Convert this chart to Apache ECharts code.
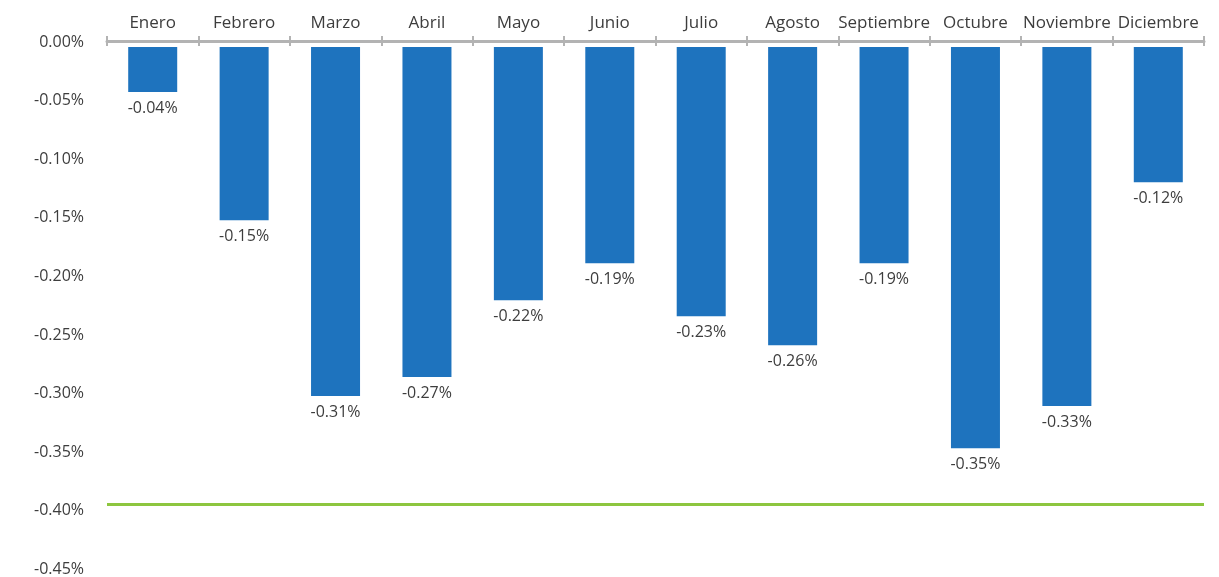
<!DOCTYPE html>
<html>
<head>
<meta charset="utf-8">
<script src="https://cdn.jsdelivr.net/npm/echarts@6/dist/echarts.min.js"></script>
<style>
html,body{margin:0;padding:0;background:#fff;}
#chart{width:1219px;height:577px;}
</style>
</head>
<body>
<div id="chart"></div>
<script>
const months = ['Enero','Febrero','Marzo','Abril','Mayo','Junio','Julio','Agosto','Septiembre','Octubre','Noviembre','Diciembre'];
const values = [-0.0384,-0.1477,-0.2978,-0.2816,-0.2161,-0.1845,-0.2297,-0.2545,-0.1845,-0.3424,-0.3063,-0.1153];
const valueLabels = ['-0.04%','-0.15%','-0.31%','-0.27%','-0.22%','-0.19%','-0.23%','-0.26%','-0.19%','-0.35%','-0.33%','-0.12%'];
const targetLine = -0.391;
const yMin = -0.45, yMax = 0, yStep = 0.05;

const font = '"Open Sans", "Noto Sans", sans-serif';
const textColor = '#3d3d3d';
const axisGray = '#b3b3b3';

const chart = echarts.init(document.getElementById('chart'), null, {renderer:'canvas'});
chart.setOption({
  animation:false,
  backgroundColor:'#fff',
  grid:{left:107, right:15, top:47, bottom:2.5, containLabel:false, outerBoundsMode:'none'},
  xAxis:[{
    type:'category', data:months, position:'top', offset:6,
    axisLine:{show:true, onZero:false, lineStyle:{color:axisGray, width:3}},
    axisTick:{show:true, inside:false, length:5, lineStyle:{color:axisGray, width:2}},
    axisLabel:{color:textColor, fontSize:17, fontFamily:font, margin:9, interval:0},
    splitLine:{show:false}
  },{
    type:'category', data:months, position:'top', offset:6,
    axisLine:{show:false, onZero:false},
    axisTick:{show:true, inside:true, length:5, lineStyle:{color:axisGray, width:2}},
    axisLabel:{show:false},
    splitLine:{show:false}
  }],
  yAxis:{
    type:'value', min:yMin, max:yMax, interval:yStep,
    axisLine:{show:false}, axisTick:{show:false}, splitLine:{show:false},
    axisLabel:{
      color:textColor, fontSize:16, fontFamily:font, margin:23,
      verticalAlign:'bottom', lineHeight:10,
      formatter:v => (Math.abs(v) < 1e-9 ? 0 : v).toFixed(2) + '%'
    }
  },
  series:[{
    type:'bar', data:values, barWidth:49, xAxisIndex:0,
    itemStyle:{color:'#1E73BE'},
    label:{
      show:true, position:'bottom', distance:8,
      color:textColor, fontSize:16, fontFamily:font,
      formatter:p => valueLabels[p.dataIndex]
    },
    markLine:{
      silent:true, symbol:['none','none'], label:{show:false},
      lineStyle:{color:'#8DC63F', width:3, type:'solid'},
      data:[{yAxis:targetLine}]
    }
  }]
});
</script>
</body>
</html>
